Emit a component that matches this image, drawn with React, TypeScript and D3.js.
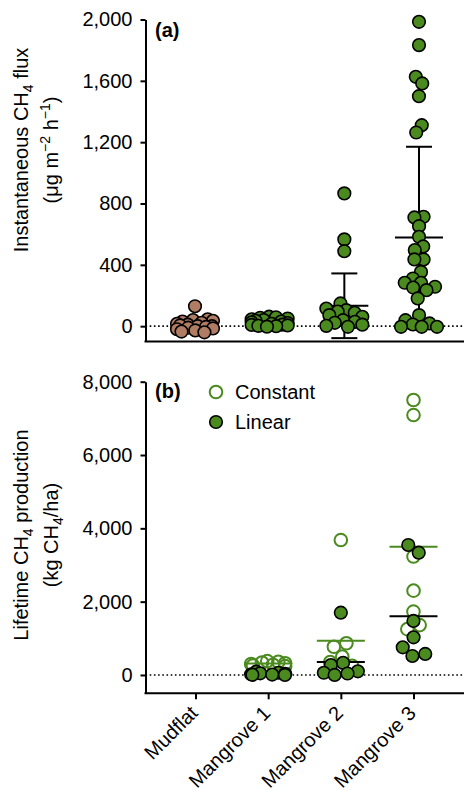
import * as d3 from 'd3';
import { useEffect, useRef } from 'react';

const categories = ['Mudflat', 'Mangrove 1', 'Mangrove 2', 'Mangrove 3'];

// (a) instantaneous CH4 flux (ug m-2 h-1)
const fluxMudflat = [130, 45, 40, 35, 30, 22, 15, 10, 5, 0, 0, -5, -10, -15, -20, -28, -35, -40];
const fluxMangrove1 = [62, 58, 55, 50, 45, 40, 35, 30, 25, 20, 15, 10, 8, 5, 2, 0, -3];
const fluxMangrove2 = [866, 566, 489, 148, 115, 104, 95, 87, 72, 61, 39, 28, 22, 10, 2, -4];
const fluxMangrove3 = [
  1985, 1833, 1626, 1583, 1500, 1311, 1263, 713, 709, 652, 583, 520, 496, 435, 435, 354, 311,
  283, 283, 257, 252, 235, 181, 72, 39, 18, 11, -4, -4, -4,
];
const fluxMean = [5, 25, 133, 578];
const fluxSd = [35, 20, 211, 592];
const fluxTicks = [0, 400, 800, 1200, 1600, 2000];

// (b) lifetime CH4 production (kg CH4/ha)
const constantMudflat: number[] = [];
const constantMangrove1 = [380, 360, 340, 320, 300, 280, 260, 240];
const constantMangrove2 = [3680, 865, 770, 500, 350, 250, 120];
const constantMangrove3 = [7500, 7090, 3230, 2300, 1730, 1360, 1250];
const linearMudflat: number[] = [];
const linearMangrove1 = [90, 60, 45, 30, 20, 10, 5, 0];
const linearMangrove2 = [1700, 330, 270, 100, 60, 40, 0];
const linearMangrove3 = [3546, 3336, 1473, 1028, 755, 573, 518];
const productionTicks = [0, 2000, 4000, 6000, 8000];

const GREEN = '#4a8a1e';
const BROWN = '#b07d64';
const FONT = '"Liberation Sans", Arial, sans-serif';

type Node = { v: number; x: number; y: number; fy: number };

// beeswarm: y fixed at the value, x pushed apart but kept inside the column
function swarm(values: number[], cx: number, y: d3.ScaleLinear<number, number>, radius: number, half: number) {
  const nodes: Node[] = values.map((v, i) => ({
    v,
    x: cx + (i % 2 ? 1 : -1) * (i % 5),
    y: y(v),
    fy: y(v),
  }));
  const sim = d3
    .forceSimulation(nodes as any)
    .force('x', d3.forceX(cx).strength(0.06))
    .force('collide', d3.forceCollide(radius))
    .stop();
  for (let i = 0; i < 250; i++) {
    sim.tick();
    nodes.forEach((n) => (n.x = Math.max(cx - half, Math.min(cx + half, n.x))));
  }
  return nodes;
}

export default function App() {
  const ref = useRef<SVGSVGElement>(null);

  useEffect(() => {
    const svg = d3.select(ref.current);
    svg.selectAll('*').remove();
    const width = 464;
    const left = 145.5;
    const r = 6.3;

    // ---------- panel (a) ----------
    const xA = d3.scalePoint(categories, [195, 419]);
    const yA = d3.scaleLinear([-100, 2000], [341.5, 19.5]);
    const a = svg.append('g');

    a.append('line')
      .attr('x1', left)
      .attr('x2', width)
      .attr('y1', yA(0))
      .attr('y2', yA(0))
      .attr('stroke', '#000')
      .attr('stroke-width', 1.6)
      .attr('stroke-dasharray', '1.6,2.6');

    categories.forEach((c, i) => {
      const cx = xA(c)!;
      const g = a.append('g').attr('stroke', '#000').attr('stroke-width', 2);
      g.append('line').attr('x1', cx).attr('x2', cx).attr('y1', yA(fluxMean[i] - fluxSd[i])).attr('y2', yA(fluxMean[i] + fluxSd[i]));
      [fluxMean[i] - fluxSd[i], fluxMean[i] + fluxSd[i]].forEach((v) =>
        g.append('line').attr('x1', cx - 13).attr('x2', cx + 13).attr('y1', yA(v)).attr('y2', yA(v))
      );
      g.append('line').attr('x1', cx - 24).attr('x2', cx + 24).attr('y1', yA(fluxMean[i])).attr('y2', yA(fluxMean[i]));
    });

    [fluxMudflat, fluxMangrove1, fluxMangrove2, fluxMangrove3].forEach((vals, i) => {
      const nodes = swarm(vals, xA(categories[i])!, yA, 4.6, 18);
      a.append('g')
        .selectAll('circle')
        .data(nodes)
        .join('circle')
        .attr('cx', (d) => d.x)
        .attr('cy', (d) => d.fy)
        .attr('r', r)
        .attr('fill', i === 0 ? BROWN : GREEN)
        .attr('stroke', '#000')
        .attr('stroke-width', 1.6);
    });

    a.append('g')
      .attr('transform', `translate(${left},0)`)
      .call(d3.axisLeft(yA).tickValues(fluxTicks).tickFormat(d3.format(',')).tickSize(5).tickSizeOuter(0).tickPadding(8))
      .call((g) => g.select('.domain').attr('stroke-width', 2))
      .call((g) => g.selectAll('.tick line').attr('stroke-width', 2))
      .call((g) => g.selectAll('text').attr('font-size', 20).attr('font-family', FONT).attr('fill', '#000'));

    a.append('line')
      .attr('x1', left - 1)
      .attr('x2', width)
      .attr('y1', yA(-100))
      .attr('y2', yA(-100))
      .attr('stroke', '#000')
      .attr('stroke-width', 2);

    a.append('text')
      .attr('x', 155)
      .attr('y', 37)
      .attr('font-size', 20)
      .attr('font-weight', 'bold')
      .attr('font-family', FONT)
      .text('(a)');

    const labA = a
      .append('g')
      .attr('transform', 'translate(28,150) rotate(-90)')
      .attr('font-family', FONT)
      .attr('font-size', 20)
      .attr('text-anchor', 'middle');
    const la1 = labA.append('text');
    la1.append('tspan').text('Instantaneous CH');
    la1.append('tspan').attr('font-size', 14).attr('dy', 5).text('4');
    la1.append('tspan').attr('dy', -5).text(' flux');
    const la2 = labA.append('text').attr('y', 30);
    la2.append('tspan').text('(μg m');
    la2.append('tspan').attr('font-size', 14).attr('dy', -8).text('−2');
    la2.append('tspan').attr('dy', 8).text(' h');
    la2.append('tspan').attr('font-size', 14).attr('dy', -8).text('−1');
    la2.append('tspan').attr('dy', 8).text(')');

    // ---------- panel (b) ----------
    const xB = d3.scalePoint(categories, [195.5, 413.5]);
    const yB = d3.scaleLinear([-500, 8000], [693.3, 381.7]);
    const b = svg.append('g');

    b.append('line')
      .attr('x1', left)
      .attr('x2', width)
      .attr('y1', yB(0))
      .attr('y2', yB(0))
      .attr('stroke', '#000')
      .attr('stroke-width', 1.6)
      .attr('stroke-dasharray', '1.6,2.6');

    const constant = [constantMudflat, constantMangrove1, constantMangrove2, constantMangrove3];
    const linear = [linearMudflat, linearMangrove1, linearMangrove2, linearMangrove3];

    constant.forEach((vals, i) => {
      const nodes = swarm(vals, xB(categories[i])!, yB, 6.5, 17);
      b.append('g')
        .selectAll('circle')
        .data(nodes)
        .join('circle')
        .attr('cx', (d) => d.x)
        .attr('cy', (d) => d.fy)
        .attr('r', r)
        .attr('fill', 'none')
        .attr('stroke', GREEN)
        .attr('stroke-width', 2);
    });

    [
      { series: constant, colour: GREEN },
      { series: linear, colour: '#000' },
    ].forEach(({ series, colour }) =>
      series.forEach((vals, i) => {
        if (!vals.length) return;
        const cx = xB(categories[i])!;
        const m = d3.mean(vals)!;
        b.append('line')
          .attr('x1', cx - 24)
          .attr('x2', cx + 24)
          .attr('y1', yB(m))
          .attr('y2', yB(m))
          .attr('stroke', colour)
          .attr('stroke-width', 2);
      })
    );

    linear.forEach((vals, i) => {
      const nodes = swarm(vals, xB(categories[i])!, yB, 6.5, 17);
      b.append('g')
        .selectAll('circle')
        .data(nodes)
        .join('circle')
        .attr('cx', (d) => d.x)
        .attr('cy', (d) => d.fy)
        .attr('r', r)
        .attr('fill', GREEN)
        .attr('stroke', '#000')
        .attr('stroke-width', 1.6);
    });

    b.append('g')
      .attr('transform', `translate(${left},0)`)
      .call(d3.axisLeft(yB).tickValues(productionTicks).tickFormat(d3.format(',')).tickSize(5).tickSizeOuter(0).tickPadding(8))
      .call((g) => g.select('.domain').attr('stroke-width', 2))
      .call((g) => g.selectAll('.tick line').attr('stroke-width', 2))
      .call((g) => g.selectAll('text').attr('font-size', 20).attr('font-family', FONT).attr('fill', '#000'));

    b.append('line')
      .attr('x1', left - 1)
      .attr('x2', width)
      .attr('y1', yB(-500))
      .attr('y2', yB(-500))
      .attr('stroke', '#000')
      .attr('stroke-width', 2);

    const xAxis = b
      .append('g')
      .attr('transform', `translate(0,${yB(-500)})`)
      .call(d3.axisBottom(xB).tickSize(6).tickSizeOuter(0))
      .call((g) => g.select('.domain').remove())
      .call((g) => g.selectAll('.tick line').attr('stroke-width', 2));
    xAxis
      .selectAll('.tick text')
      .attr('font-size', 20)
      .attr('font-family', FONT)
      .attr('fill', '#000')
      .attr('text-anchor', 'end')
      .attr('dy', 0)
      .attr('y', 0)
      .attr('transform', 'translate(3,21) rotate(-45)');

    b.append('text')
      .attr('x', 155)
      .attr('y', 398)
      .attr('font-size', 20)
      .attr('font-weight', 'bold')
      .attr('font-family', FONT)
      .text('(b)');

    const legend = [
      { label: 'Constant', fill: 'none', stroke: GREEN, sw: 2 },
      { label: 'Linear', fill: GREEN, stroke: '#000', sw: 1.6 },
    ];
    const lg = b
      .append('g')
      .selectAll('g')
      .data(legend)
      .join('g')
      .attr('transform', (_, i) => `translate(216,${392 + i * 30})`);
    lg.append('circle')
      .attr('r', r)
      .attr('fill', (d) => d.fill)
      .attr('stroke', (d) => d.stroke)
      .attr('stroke-width', (d) => d.sw);
    lg.append('text')
      .attr('x', 19)
      .attr('y', 7)
      .attr('font-size', 20)
      .attr('font-family', FONT)
      .text((d) => d.label);

    const labB = b
      .append('g')
      .attr('transform', 'translate(28,535) rotate(-90)')
      .attr('font-family', FONT)
      .attr('font-size', 20)
      .attr('text-anchor', 'middle');
    const lb1 = labB.append('text');
    lb1.append('tspan').text('Lifetime CH');
    lb1.append('tspan').attr('font-size', 14).attr('dy', 5).text('4');
    lb1.append('tspan').attr('dy', -5).text(' production');
    const lb2 = labB.append('text').attr('y', 30);
    lb2.append('tspan').text('(kg CH');
    lb2.append('tspan').attr('font-size', 14).attr('dy', 5).text('4');
    lb2.append('tspan').attr('dy', -5).text('/ha)');
  }, []);

  return (
    <svg
      ref={ref}
      width={464}
      height={790}
      style={{ position: 'absolute', left: 0, top: 0, background: '#fff' }}
    ></svg>
  );
}
